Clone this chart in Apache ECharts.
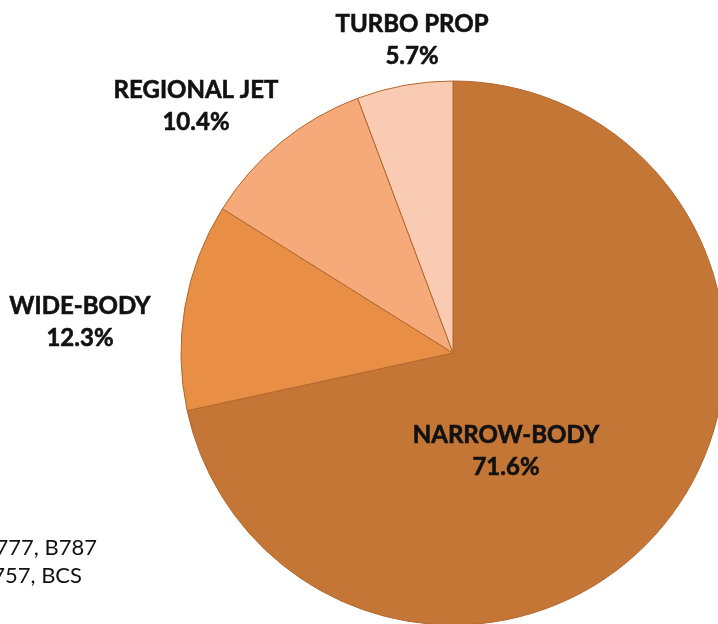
<!DOCTYPE html>
<html>
<head>
<meta charset="utf-8">
<script src="https://cdn.jsdelivr.net/npm/echarts@6/dist/echarts.min.js"></script>
<style>
    html, body { margin: 0; padding: 0; background: #fff; }
    #main { width: 718px; height: 624px; }
</style>
</head>
<body>
<div id="main"></div>
<script>
    // fleet share by aircraft type (%)
    var categories = ['NARROW-BODY', 'WIDE-BODY', 'REGIONAL JET', 'TURBO PROP'];
    var shares = [71.6, 12.3, 10.4, 5.7];
    var sliceColors = ['#C47637', '#E88E45', '#F6AA7A', '#F9CBB3'];
    // where the data labels sit (label centres)
    var labelPos = [[506, 451], [80, 322], [196, 106], [412, 40]];
    // note lines cut off at the left edge
    var noteLines = ['B777, B787', 'B757, BCS'];

    var chart = echarts.init(document.getElementById('main'));

    var data = categories.map(function (name, i) {
        return {name: name, value: shares[i], itemStyle: {color: sliceColors[i]}};
    });

    var option = {
        animation: false,
        backgroundColor: '#fff',
        graphic: [
            {
                type: 'text',
                style: {
                    text: noteLines[0], x: 97, y: 548,
                    textAlign: 'right', textVerticalAlign: 'middle',
                    font: '22px Lato', fill: '#111'
                }
            },
            {
                type: 'text',
                style: {
                    text: noteLines[1], x: 82, y: 576,
                    textAlign: 'right', textVerticalAlign: 'middle',
                    font: '22px Lato', fill: '#111'
                }
            }
        ],
        series: [
            {
                type: 'pie',
                center: [453, 353],
                radius: [0, 272],
                startAngle: 90,
                clockwise: true,
                avoidLabelOverlap: false,
                itemStyle: {
                    borderColor: '#B4672D',
                    borderWidth: 1
                },
                label: {
                    show: true,
                    position: 'outside',
                    fontFamily: 'Lato',
                    fontWeight: 'bold',
                    fontSize: 24,
                    lineHeight: 32,
                    color: '#111',
                    textBorderColor: '#111',
                    textBorderWidth: 0.6,
                    align: 'center',
                    formatter: function (p) {
                        return p.name + '\n' + p.value.toFixed(1) + '%';
                    }
                },
                labelLine: {show: false},
                labelLayout: function (p) {
                    var pos = labelPos[p.dataIndex];
                    return {x: pos[0], y: pos[1], align: 'center', verticalAlign: 'middle'};
                },
                emphasis: {disabled: true},
                data: data
            }
        ]
    };
    chart.setOption(option);
</script>
</body>
</html>
